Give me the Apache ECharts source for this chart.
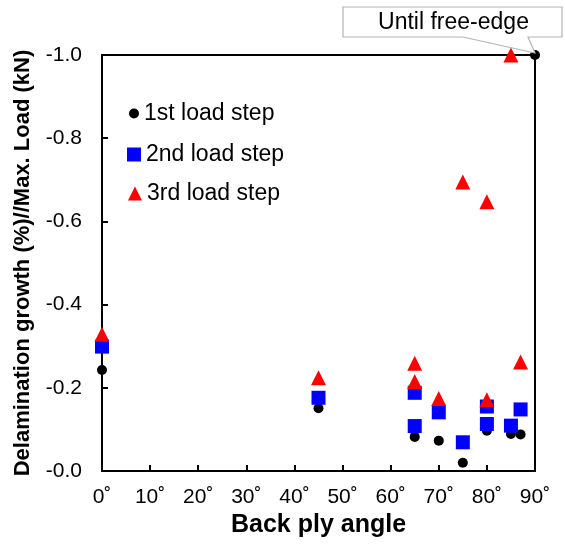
<!DOCTYPE html>
<html>
<head>
<meta charset="utf-8">
<script src="https://cdn.jsdelivr.net/npm/echarts@6/dist/echarts.min.js"></script>
<style>
html,body{margin:0;padding:0;background:#fff;}
#chart{width:565px;height:551px;}
</style>
</head>
<body>
<div id="chart"></div>
<script>
// ---- data ----
const seriesNames = ['1st load step', '2nd load step', '3rd load step'];
const step1Angles = [0, 45, 65, 70, 75, 80, 85, 87, 90];
const step1Values = [-0.243, -0.151, -0.082, -0.073, -0.020, -0.097, -0.089, -0.088, -1.0];
const step2Angles = [0, 45, 65, 65, 70, 75, 80, 80, 85, 87];
const step2Values = [-0.299, -0.176, -0.188, -0.108, -0.141, -0.069, -0.155, -0.113, -0.109, -0.148];
const step3Angles = [0, 45, 65, 65, 70, 75, 80, 80, 85, 87];
const step3Values = [-0.329, -0.224, -0.259, -0.215, -0.174, -0.695, -0.647, -0.171, -1.0, -0.262];
const xTicks = [0, 10, 20, 30, 40, 50, 60, 70, 80, 90];
const yTicks = [-1.0, -0.8, -0.6, -0.4, -0.2, 0.0];
const calloutText = 'Until free-edge';
const calloutAnchor = [90, -1.0];

function pairs(xs, ys) { return xs.map((x, i) => [x, ys[i]]); }

const FONT = '"Liberation Sans", Arial, sans-serif';
const chart = echarts.init(document.getElementById('chart'), null, {renderer: 'canvas'});

const legendBase = {
  orient: 'vertical', padding: 0, itemGap: 0,
  textStyle: {fontFamily: FONT, fontSize: 23, color: '#000'},
  selectedMode: false
};

const option = {
  animation: false,
  backgroundColor: '#fff',
  grid: {left: 102, right: 30, top: 55, bottom: 80, show: true, borderColor: '#000', borderWidth: 2, backgroundColor: 'transparent'},
  legend: [
    Object.assign({}, legendBase, {data: [{name: seriesNames[0], icon: 'circle'}], left: 129, top: 102, itemWidth: 10, itemHeight: 10}),
    Object.assign({}, legendBase, {data: [{name: seriesNames[1], icon: 'rect'}], left: 127, top: 143, itemWidth: 14, itemHeight: 14}),
    Object.assign({}, legendBase, {data: [{name: seriesNames[2], icon: 'triangle'}], left: 128, top: 182, itemWidth: 14, itemHeight: 14})
  ],
  xAxis: {
    type: 'value', min: 0, max: 90, interval: 10,
    name: 'Back ply angle', nameLocation: 'middle', nameGap: 42,
    nameTextStyle: {fontFamily: FONT, fontSize: 25, fontWeight: 'bold', color: '#000'},
    axisLine: {show: true, lineStyle: {color: '#000', width: 2}},
    axisTick: {show: true, inside: true, length: 6, lineStyle: {color: '#000', width: 2}},
    axisLabel: {fontFamily: FONT, fontSize: 21, color: '#000', margin: 16,
      formatter: v => (xTicks.indexOf(v) >= 0 ? v + '˚' : '')},
    splitLine: {show: false}
  },
  yAxis: {
    type: 'value', min: -1, max: 0, interval: 0.2, inverse: true,
    name: 'Delamination growth (%)//Max. Load (kN)', nameLocation: 'middle', nameGap: 68,
    nameTextStyle: {fontFamily: FONT, fontSize: 22, fontWeight: 'bold', color: '#000'},
    axisLine: {show: true, lineStyle: {color: '#000', width: 2}},
    axisTick: {show: true, inside: true, length: 6, lineStyle: {color: '#000', width: 2}},
    axisLabel: {fontFamily: FONT, fontSize: 21, color: '#000', margin: 20,
      formatter: v => '-' + Math.abs(v).toFixed(1)},
    splitLine: {show: false}
  },
  series: [
    {name: seriesNames[0], type: 'scatter', symbol: 'circle', symbolSize: 10, clip: false,
     itemStyle: {color: '#000', opacity: 1}, data: pairs(step1Angles, step1Values), z: 2},
    {name: seriesNames[1], type: 'scatter', symbol: 'rect', symbolSize: 14, clip: false,
     itemStyle: {color: '#0000ff', opacity: 1}, data: pairs(step2Angles, step2Values), z: 3},
    {name: seriesNames[2], type: 'scatter', symbol: 'triangle', symbolSize: 15, clip: false,
     itemStyle: {color: '#ff0000', opacity: 1}, data: pairs(step3Angles, step3Values), z: 4}
  ]
};
chart.setOption(option);

// callout annotation pointing at the 90° point
const tip = chart.convertToPixel({gridIndex: 0}, calloutAnchor);
const bx0 = 343, bx1 = 562, by0 = 7, by1 = 37;
const tipX = tip[0], tipY = tip[1] - 2;
chart.setOption({
  graphic: [
    {type: 'polygon', z: 100,
     shape: {points: [[bx0, by0], [bx1, by0], [bx1, by1], [528, by1], [tipX, tipY], [463, by1], [bx0, by1]]},
     style: {fill: '#fff', stroke: '#b4b4b4', lineWidth: 1.2}},
    {type: 'text', z: 101, x: (bx0 + bx1) / 2 + 1, y: (by0 + by1) / 2 + 1,
     style: {text: calloutText, font: '23px ' + FONT, fill: '#000', textAlign: 'center', textVerticalAlign: 'middle'}}
  ]
});
</script>
</body>
</html>
